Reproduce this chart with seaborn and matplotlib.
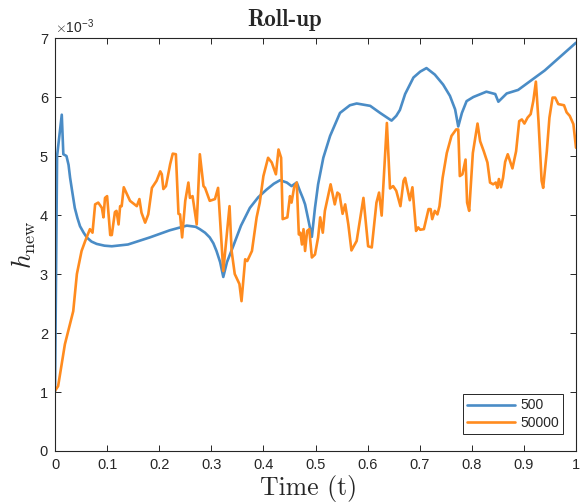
import os
import numpy as np
import pandas as pd
import matplotlib
matplotlib.use("Agg")
import matplotlib.pyplot as plt
from matplotlib.font_manager import FontProperties
from matplotlib.ticker import FuncFormatter
import seaborn as sns

# ---------------- data (values in units of 1e-3) ----------------
t_500 = [0.0, 0.004, 0.013, 0.016, 0.022, 0.026, 0.029, 0.033, 0.038, 0.043,
         0.048, 0.055, 0.061, 0.070, 0.080, 0.095, 0.109, 0.14, 0.182, 0.22,
         0.253, 0.27, 0.278, 0.288, 0.297, 0.304, 0.310, 0.317, 0.323, 0.330,
         0.342, 0.357, 0.374, 0.390, 0.406, 0.420, 0.432, 0.445, 0.454, 0.464,
         0.470, 0.476, 0.480, 0.486, 0.493, 0.499, 0.505, 0.515, 0.528, 0.547,
         0.566, 0.579, 0.605, 0.624, 0.646, 0.655, 0.662, 0.672, 0.688, 0.701,
         0.713, 0.729, 0.745, 0.758, 0.768, 0.774, 0.781, 0.790, 0.803, 0.828,
         0.845, 0.851, 0.867, 0.889, 0.94, 1.0]
h_500 = [1.0, 5.0, 5.7, 5.03, 5.0, 4.85, 4.63, 4.4, 4.12, 3.95,
         3.81, 3.7, 3.62, 3.55, 3.51, 3.48, 3.47, 3.5, 3.62, 3.74,
         3.82, 3.8, 3.76, 3.7, 3.62, 3.52, 3.39, 3.2, 2.95, 3.2,
         3.47, 3.82, 4.12, 4.3, 4.43, 4.53, 4.59, 4.55, 4.49, 4.55,
         4.41, 4.28, 4.18, 3.93, 3.63, 4.12, 4.52, 4.97, 5.34, 5.73,
         5.86, 5.89, 5.85, 5.73, 5.6, 5.68, 5.78, 6.05, 6.33, 6.43,
         6.49, 6.38, 6.21, 6.02, 5.79, 5.5, 5.73, 5.93, 6.0, 6.09,
         6.05, 5.92, 6.06, 6.12, 6.45, 6.92]

t_50000 = [0.0, 0.006, 0.019, 0.035, 0.042, 0.051, 0.058, 0.067, 0.072, 0.077,
           0.083, 0.090, 0.093, 0.096, 0.100, 0.106, 0.109, 0.115, 0.118, 0.122,
           0.125, 0.128, 0.132, 0.144, 0.157, 0.162, 0.166, 0.173, 0.179, 0.186,
           0.195, 0.202, 0.205, 0.208, 0.213, 0.221, 0.226, 0.232, 0.237, 0.240,
           0.244, 0.250, 0.256, 0.259, 0.264, 0.272, 0.278, 0.285, 0.288, 0.297,
           0.307, 0.313, 0.323, 0.335, 0.339, 0.345, 0.354, 0.358, 0.365, 0.369,
           0.378, 0.387, 0.393, 0.400, 0.409, 0.416, 0.424, 0.429, 0.434, 0.437,
           0.446, 0.451, 0.454, 0.459, 0.464, 0.468, 0.471, 0.474, 0.477, 0.480,
           0.484, 0.488, 0.493, 0.499, 0.505, 0.509, 0.514, 0.518, 0.529, 0.537,
           0.542, 0.546, 0.552, 0.557, 0.563, 0.569, 0.579, 0.592, 0.601, 0.608,
           0.617, 0.622, 0.627, 0.637, 0.643, 0.649, 0.655, 0.663, 0.669, 0.672,
           0.681, 0.686, 0.693, 0.697, 0.701, 0.708, 0.717, 0.721, 0.724, 0.729,
           0.734, 0.738, 0.744, 0.752, 0.761, 0.770, 0.774, 0.777, 0.782, 0.788,
           0.791, 0.795, 0.802, 0.811, 0.816, 0.823, 0.830, 0.835, 0.841, 0.846,
           0.849, 0.852, 0.856, 0.860, 0.864, 0.869, 0.878, 0.885, 0.891, 0.896,
           0.901, 0.907, 0.913, 0.918, 0.923, 0.928, 0.934, 0.937, 0.944, 0.949,
           0.955, 0.960, 0.966, 0.977, 0.982, 0.988, 0.995, 1.0]
h_50000 = [1.02, 1.1, 1.81, 2.37, 3.0, 3.39, 3.56, 3.76, 3.70, 4.18,
           4.21, 4.12, 3.96, 4.29, 4.32, 3.66, 3.66, 4.05, 4.07, 3.84,
           4.15, 4.15, 4.47, 4.24, 4.15, 4.27, 4.04, 3.87, 4.01, 4.46,
           4.58, 4.74, 4.69, 4.44, 4.49, 4.86, 5.04, 5.03, 4.02, 4.01,
           3.62, 4.24, 4.55, 4.29, 4.32, 3.84, 5.03, 4.49, 4.46, 4.24,
           4.27, 4.46, 3.05, 4.15, 3.39, 3.0, 2.83, 2.54, 3.25, 3.22,
           3.39, 3.96, 4.21, 4.66, 4.97, 4.89, 4.69, 5.11, 4.97, 3.93,
           3.96, 4.32, 4.21, 4.47, 4.55, 3.67, 3.70, 3.50, 3.76, 3.39,
           3.73, 3.76, 3.28, 3.33, 3.62, 3.96, 3.70, 4.07, 4.52, 4.18,
           4.38, 4.35, 4.02, 4.18, 3.84, 3.40, 3.56, 4.29, 3.47, 3.45,
           4.21, 4.38, 3.99, 5.56, 4.45, 4.49, 4.41, 4.15, 4.58, 4.63,
           4.25, 4.47, 3.73, 3.79, 3.75, 3.76, 4.10, 4.10, 3.93, 4.07,
           4.01, 4.15, 4.63, 5.05, 5.34, 5.45, 5.45, 4.66, 4.69, 4.94,
           4.21, 4.07, 5.05, 5.55, 5.25, 5.08, 4.89, 4.55, 4.52, 4.55,
           4.46, 4.61, 4.47, 4.63, 4.90, 5.03, 4.79, 5.08, 5.59, 5.62,
           5.55, 5.65, 5.71, 5.93, 6.26, 5.59, 4.58, 4.46, 5.08, 5.65,
           5.99, 5.99, 5.88, 5.86, 5.74, 5.68, 5.54, 5.14]

series_labels = ["500", "50000"]
x_ticks = [0, 0.1, 0.2, 0.3, 0.4, 0.5, 0.6, 0.7, 0.8, 0.9, 1]
y_ticks = [0, 1, 2, 3, 4, 5, 6, 7]
title_text = "Roll-up"
xlabel_text = "Time (t)"
ylabel_text = r"$h_{\mathrm{new}}$"
exponent_text = r"$\times$10$^{\mathregular{-3}}$"

# ---------------- style ----------------
sns.set_theme(style="ticks")
plt.rcParams["font.family"] = ["Liberation Sans", "DejaVu Sans"]
plt.rcParams["mathtext.fontset"] = "cm"

ttf_dir = os.path.join(matplotlib.get_data_path(), "fonts", "ttf")
fp_title = FontProperties(fname=os.path.join(ttf_dir, "cmb10.ttf"), size=16.5)
fp_xlabel = FontProperties(fname=os.path.join(ttf_dir, "cmr10.ttf"), size=18.5)

df = pd.concat([
    pd.DataFrame({"t": t_500, "h": h_500, "N": series_labels[0]}),
    pd.DataFrame({"t": t_50000, "h": h_50000, "N": series_labels[1]}),
], ignore_index=True)

fig = plt.figure(figsize=(5.81, 5.04), dpi=100)
ax = fig.add_axes([55 / 581, 1 - 451 / 504, 521 / 581, 413 / 504])

palette = {series_labels[0]: "#4a8cc6", series_labels[1]: "#ff8b1e"}
sns.lineplot(data=df, x="t", y="h", hue="N", palette=palette, sort=False,
             estimator=None, linewidth=1.9, ax=ax)

ax.set_xlim(0, 1)
ax.set_ylim(0, 7)
ax.set_xticks(x_ticks)
ax.set_yticks(y_ticks)
ax.xaxis.set_major_formatter(FuncFormatter(lambda v, p: f"{v:g}"))
ax.tick_params(direction="in", length=4, width=0.7, top=True, right=True,
               labelsize=10.5, colors="#262626", labelcolor="#262626", pad=5)
for s in ax.spines.values():
    s.set_color("#262626")
    s.set_linewidth(0.8)

ax.set_title(title_text, fontproperties=fp_title, x=0.44, pad=9)
ax.set_xlabel(xlabel_text, fontproperties=fp_xlabel, labelpad=3)
ax.xaxis.set_label_coords(0.487, -0.058)
ax.xaxis.label.set_va("top")
ax.set_ylabel(ylabel_text, fontsize=19, labelpad=1)
ax.text(0.0, 1.005, exponent_text, transform=ax.transAxes, fontsize=10,
        color="#262626", ha="left", va="bottom")

leg = ax.legend(loc="lower right", bbox_to_anchor=(0.975, 0.041),
                borderaxespad=0, fontsize=10, handlelength=3.4,
                frameon=True, fancybox=False, framealpha=1,
                edgecolor="#262626", borderpad=0.3, labelspacing=0.25,
                handletextpad=0.4)
leg.get_frame().set_linewidth(0.7)

fig.savefig("out.png", dpi=100)
